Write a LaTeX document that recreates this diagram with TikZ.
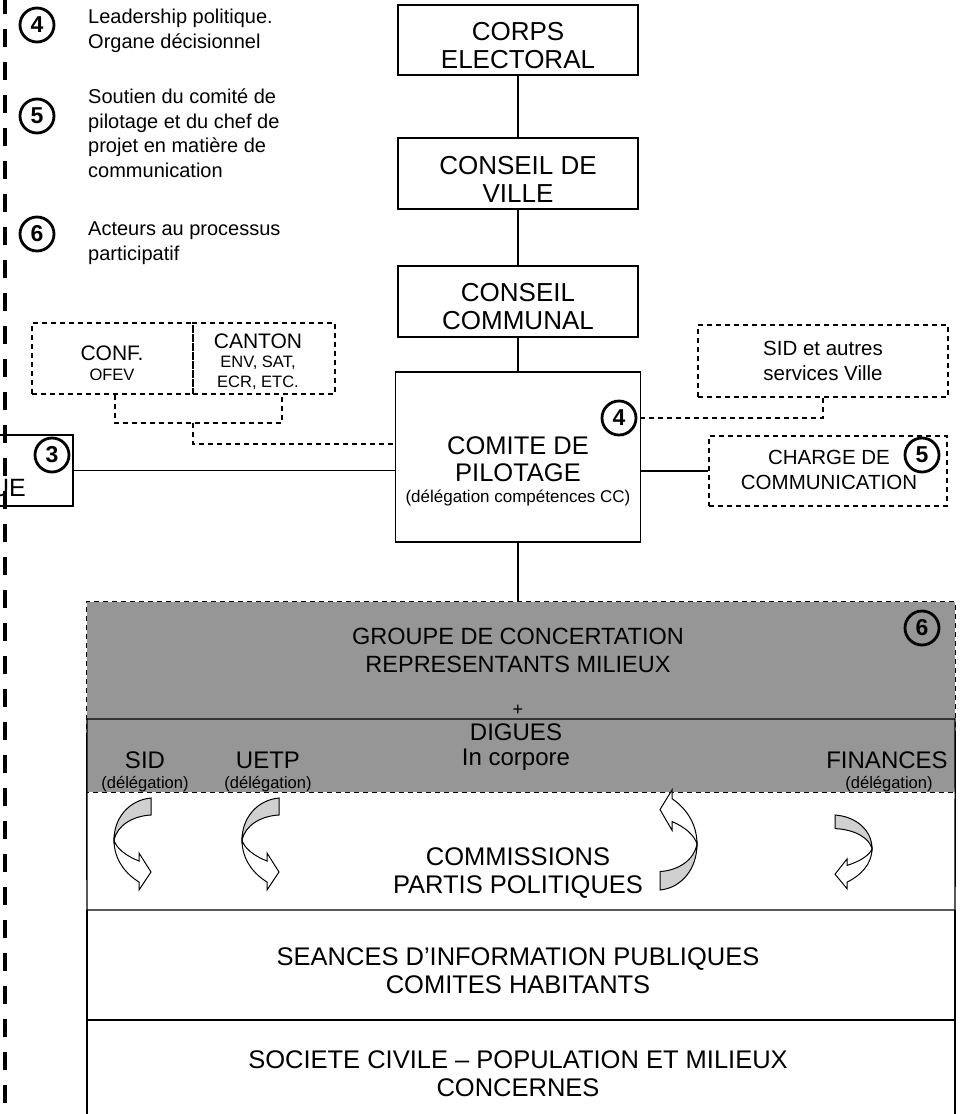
\documentclass[tikz,border=0pt]{standalone}
\usepackage{fontspec}
\setmainfont{Liberation Sans}
\newcommand\fs[2]{\fontsize{#1}{#2}\selectfont}
\definecolor{grayfill}{RGB}{150,150,150}
\definecolor{arrowgray}{RGB}{208,208,208}
\tikzset{carrow/.pic={
  \draw[line width=1pt, fill=arrowgray] (37,0) .. controls (15,2) and (0,20) .. (0,42) .. controls (3,28) and (18,18) .. (37,17) -- cycle;
  \draw[line width=1pt, fill=white] (0,42) .. controls (0,62) and (12,76) .. (25,84) -- (25,92) -- (37,74) -- (25,55) -- (25,63) .. controls (12,58) and (2,50) .. (0,42) -- cycle;
}}
\begin{document}
\begin{tikzpicture}[x=1pt,y=-1pt,
  box/.style={draw, line width=1.4pt, inner sep=0pt},
  dbox/.style={draw, line width=1.1pt, dash pattern=on 5pt off 4pt, inner sep=0pt},
  conn/.style={line width=1.2pt},
  dconn/.style={line width=1.1pt, dash pattern=on 5pt off 4pt},
  num/.style={circle, draw, line width=2.8pt, minimum size=34pt, inner sep=0pt, font=\bfseries\fs{23}{23}},
  big/.style={inner sep=0pt, align=center, font=\fs{26}{28}},
  txt/.style={inner sep=0pt, align=center},
  leg/.style={inner sep=0pt, align=left, font=\fs{20}{24.5}},
]
\useasboundingbox (0,0) rectangle (964,1114);
% left thick dashed line
\draw[line width=4pt, dash pattern=on 18pt off 15pt] (5,-4) -- (5,1120);

% legend
\node[num] (l4) at (37,25) {4};
\node[leg, anchor=north west] (l4t) at (88,9) {Leadership politique.\\Organe décisionnel};
\node[num] (l5) at (37,116) {5};
\node[leg, anchor=north west] (l5t) at (88,89) {Soutien du comité de\\pilotage et du chef de\\projet en matière de\\communication};
\node[num] (l6) at (37,234) {6};
\node[leg, anchor=north west] (l6t) at (88,222) {Acteurs au processus\\participatif};

% vertical chain
\node[box, minimum width=240pt, minimum height=70pt] (corps) at (518,40) {};
\node[big] (corpst) at (518,46) {CORPS\\ELECTORAL};
\node[box, minimum width=240pt, minimum height=71pt] (ville) at (518,173.5) {};
\node[big] (villet) at (518,179) {CONSEIL DE\\VILLE};
\node[box, minimum width=240pt, minimum height=71pt] (communal) at (518,301.5) {};
\node[big] (communalt) at (518,307) {CONSEIL\\COMMUNAL};
\node[box, minimum width=245pt, minimum height=170pt] (comite) at (518,457) {};
\node[txt, font=\fs{25.5}{27}] (comitet) at (518,459) {COMITE DE\\PILOTAGE};
\node[txt, font=\fs{17}{20}] (comited) at (518,498) {(délégation compétences CC)};
\node[num] (c4) at (619,418) {4};
\draw[conn] (corps.south) -- (ville.north);
\draw[conn] (ville.south) -- (communal.north);
\draw[conn] (communal.south) -- (comite.north);

% left truncated box
\node[box, minimum width=90pt, minimum height=71pt] (ue) at (28,470.5) {};
\node[txt, anchor=east, font=\fs{25}{28}] (uet) at (26,488) {UE};
\node[num] (c3) at (52,455) {3};
\draw[conn] (ue.east) -- (ue.east -| comite.west);

% CONF / CANTON
\node[dbox, minimum width=161pt, minimum height=71pt] (conf) at (112.5,358.5) {};
\node[dbox, minimum width=142pt, minimum height=71pt] (canton) at (264,358.5) {};
\node[txt, font=\fs{21}{24}] (conft) at (112,353) {CONF.};
\node[txt, font=\fs{16.5}{20}] (confs) at (112,375) {OFEV};
\node[txt, font=\fs{21}{24}] (cantont) at (258,341) {CANTON};
\node[txt, font=\fs{16.5}{20}] (cantons) at (258,373) {ENV, SAT,\\ECR, ETC.};
\coordinate (brl) at (115,423);
\coordinate (brr) at (282,423);
\coordinate (brm) at (193,423);
\coordinate (bre) at (193,444);
\draw[dconn] (brl |- conf.south) -- (brl) -- (brr) -- (brr |- canton.south);
\draw[dconn] (brm) -- (bre) -- (bre -| comite.west);

% SID et autres services
\node[dbox, minimum width=250pt, minimum height=72pt, align=center, font=\fs{20.5}{25}] (sid) at (823,361) {SID et autres\\services Ville};
\coordinate (sidc) at (823,418);
\draw[dconn] (sid.south) -- (sidc) -- (sidc -| comite.east);

% CHARGE DE COMMUNICATION
\node[dbox, minimum width=238pt, minimum height=70pt] (charge) at (828,471) {};
\node[txt, font=\fs{20.5}{25}] (charget) at (829,470) {CHARGE DE\\COMMUNICATION};
\node[num] (c5) at (922,455) {5};
\draw[conn] (charge.west -| comite.east) -- (charge.west);

% gray group
\node[fill=grayfill, minimum width=868pt, minimum height=190pt, inner sep=0pt] (groupe) at (521,697) {};
\draw[dconn] (groupe.south west) rectangle (groupe.north east);
\coordinate (sepL) at (87,719);
\coordinate (sepR) at (955,719);
\draw[line width=1.4pt] (groupe.south west) -- (sepL) -- (sepR) -- (groupe.south east);
\draw[conn] (comite.south) -- (comite.south |- groupe.north);
\node[txt, font=\fs{23.5}{28}] (groupet) at (518,650) {GROUPE DE CONCERTATION\\REPRESENTANTS MILIEUX};
\node[txt, font=\fs{18}{18}] (plus) at (518,710) {+};
\node[txt, font=\fs{24}{24.5}] (digues) at (516,747) {DIGUES\\In corpore};
\node[txt, font=\fs{24}{24}] (sidl) at (145,760) {SID};
\node[txt, font=\fs{16.5}{16.5}] (sidd) at (145,784) {(délégation)};
\node[txt, font=\fs{24}{24}] (uetp) at (268,760) {UETP};
\node[txt, font=\fs{16.5}{16.5}] (uetpd) at (268,784) {(délégation)};
\node[txt, font=\fs{24}{24}] (fin) at (887,760) {FINANCES};
\node[txt, font=\fs{16.5}{16.5}] (find) at (889,784) {(délégation)};
\node[num] (c6) at (922,628) {6};

% lower boxes
\coordinate (comL) at (87,910);
\coordinate (comR) at (955,910);
\coordinate (seaL) at (87,1020);
\coordinate (seaR) at (955,1020);
\coordinate (socL) at (87,1125);
\coordinate (socR) at (955,1125);
\draw[line width=1.4pt] (groupe.south west) -- (comL) -- (comR) -- (groupe.south east);
\draw[line width=1.4pt] (comL) -- (seaL) -- (seaR) -- (comR);
\draw[line width=1.4pt] (seaL) -- (socL);
\draw[line width=1.4pt] (seaR) -- (socR);
\node[txt, font=\fs{25.5}{28}] (commt) at (518,873) {COMMISSIONS\\PARTIS POLITIQUES};
\node[txt, font=\fs{25.5}{28}] (seat) at (518,971) {SEANCES D’INFORMATION PUBLIQUES\\COMITES HABITANTS};
\node[txt, font=\fs{25.5}{28}] (soct) at (518,1074) {SOCIETE CIVILE – POPULATION ET MILIEUX\\CONCERNES};

% curved arrows
\pic at (114,798) {carrow};
\pic at (242,798) {carrow};
\pic[xscale=-1, yscale=-1.087] at (697,890) {carrow};
\pic[xscale=-1, yscale=0.8] at (872,815) {carrow};
\end{tikzpicture}
\end{document}
